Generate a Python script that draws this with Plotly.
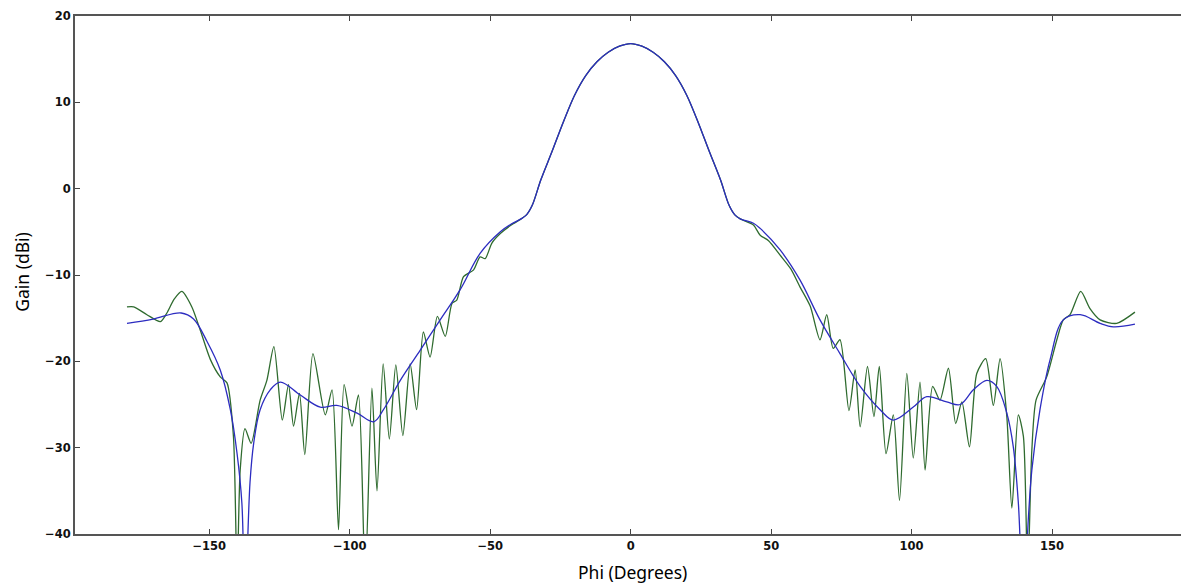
import plotly.graph_objects as go

# Smooth (blue) pattern: angle in degrees, gain in dBi
blue_phi = [-179.3, -170.0, -160.0, -155.6, -150.8, -146.1, -142.5, -140.1, -138.4, -137.3,
            -135.5, -134.2, -131.9, -128.3, -124.7, -117.6, -110.5, -104.6, -97.4, -91.5,
            -88.0, -82.0, -74.9, -67.8, -60.7, -53.6, -46.4, -42.5, -39.0, -37.0,
            -35.0, -32.0, -28.0, -24.0, -20.0, -16.0, -12.0, -8.0, -4.0, 0.0,
            4.0, 8.0, 12.0, 16.0, 20.0, 24.0, 28.0, 32.0, 35.0, 37.0,
            39.0, 43.7, 46.1, 53.2, 60.3, 67.4, 74.5,
            81.7, 88.8, 93.5, 100.6, 105.4, 112.5, 117.3, 122.0, 126.8, 130.3,
            133.9, 136.2, 138.0, 139.8, 141.6, 142.8, 145.7, 149.3, 154.0, 160.0,
            167.1, 171.8, 179.5]
blue_gain = [-15.6, -15.1, -14.4, -15.1, -17.7, -21.0, -25.6, -30.7, -36.4, -48.0,
             -34.0, -29.5, -25.6, -23.3, -22.4, -23.9, -25.3, -25.1, -26.0, -27.0,
             -25.6, -22.2, -18.7, -15.2, -11.7, -7.5, -5.0, -4.1, -3.5, -3.0,
             -1.9, 1.0, 4.3, 7.7, 10.8, 13.1, 14.7, 15.8, 16.5, 16.8,
             16.5, 15.8, 14.7, 13.1, 10.8, 7.7, 4.3, 1.0, -1.9, -3.0,
             -3.5, -4.0, -4.6, -7.1, -10.6, -15.2, -19.1,
             -22.9, -25.6, -26.8, -25.3, -24.1, -24.7, -25.0, -23.3, -22.2, -22.9,
             -26.0, -29.9, -36.4, -48.0, -38.0, -32.6, -25.6, -19.8, -15.2, -14.6,
             -15.6, -16.0, -15.7]

# Measured (green) pattern
green_phi = [-179.3, -176.9, -172.2, -167.4, -165.1, -162.5, -159.8, -156.2, -153.2, -149.6,
             -146.1, -143.7, -141.4, -140.1, -139.0, -137.3, -135.1, -131.9, -129.5, -127.0,
             -124.0, -121.8, -120.0, -117.9, -116.0, -113.1, -108.7, -106.3, -104.0, -102.0,
             -99.2, -96.9, -94.5, -92.1, -90.3, -88.1, -85.9, -83.6, -81.1, -78.5,
             -76.2, -73.8, -71.4, -68.8, -66.0, -63.6, -61.9, -59.5, -55.9, -53.6,
             -51.8, -49.4, -46.4, -42.5, -39.0, -37.0, -35.0, -32.0, -28.0, -24.0,
             -20.0, -16.0, -12.0, -8.0, -4.0, 0.0, 4.0, 8.0, 12.0, 16.0,
             20.0, 24.0, 28.0, 32.0, 35.0, 37.0, 39.0,
             43.7, 46.1, 49.0, 53.2, 57.0, 60.3, 63.9, 67.4, 69.8, 72.1,
             74.5, 77.7, 79.9, 81.7, 84.3, 86.6, 88.5, 90.9, 93.5, 95.7,
             98.3, 100.6, 103.0, 104.8, 107.5, 110.1, 113.1, 115.7, 117.9, 120.6,
             123.2, 126.4, 129.1, 131.5, 133.9, 135.7, 138.0, 139.8, 141.3, 142.8,
             144.3, 148.1, 151.7, 154.0, 156.4, 160.2, 163.5, 167.1, 173.0, 179.5]
green_gain = [-13.7, -13.7, -14.6, -15.4, -14.4, -12.8, -11.9, -13.7, -16.4, -19.8,
              -21.8, -22.5, -28.7, -45.0, -32.6, -27.8, -29.5, -24.5, -22.2, -18.3,
              -26.8, -22.7, -27.5, -23.7, -30.8, -19.1, -26.2, -23.3, -39.5, -22.7,
              -27.5, -23.9, -45.0, -23.1, -35.0, -20.3, -29.0, -20.4, -28.6, -20.3,
              -25.6, -16.6, -19.5, -14.8, -17.1, -13.3, -12.9, -10.2, -9.4, -7.9,
              -8.1, -6.3, -5.2, -4.2, -3.5, -3.0, -1.9, 1.0, 4.3, 7.7,
              10.8, 13.1, 14.7, 15.8, 16.5, 16.8, 16.5, 15.8, 14.7, 13.1,
              10.8, 7.7, 4.3, 1.0, -1.9, -3.0, -3.5,
              -4.2, -5.4, -6.0, -7.7, -9.3, -11.4, -13.6, -17.5, -14.6, -18.5,
              -17.5, -25.7, -21.0, -27.6, -20.6, -26.4, -20.6, -30.7, -26.2, -36.1,
              -21.4, -31.2, -22.4, -32.6, -22.9, -24.5, -20.8, -27.2, -24.7, -29.9,
              -21.4, -19.7, -25.1, -19.7, -26.4, -37.0, -26.2, -28.7, -45.0, -30.3,
              -24.5, -21.8, -17.5, -15.2, -14.6, -11.9, -13.9, -15.2, -15.6, -14.3]

x_ticks = [-150, -100, -50, 0, 50, 100, 150]
y_ticks = [-40, -30, -20, -10, 0, 10, 20]

fig = go.Figure()
fig.add_trace(go.Scatter(x=green_phi, y=green_gain, mode="lines",
                         line=dict(color="#2f6b2f", width=1.3, shape="spline", smoothing=0.7),
                         showlegend=False))
fig.add_trace(go.Scatter(x=blue_phi, y=blue_gain, mode="lines",
                         line=dict(color="#2c2cc0", width=1.3, shape="spline", smoothing=1.0),
                         showlegend=False))

tick_font = dict(family="DejaVu Sans", size=11.5, color="#111111", weight="bold")

fig.update_layout(
    width=1181, height=587,
    margin=dict(l=75, r=0, t=16, b=53),
    paper_bgcolor="white", plot_bgcolor="white",
    font=dict(family="DejaVu Sans", color="black"),
    xaxis=dict(range=[-197.8, 195.9], tickvals=x_ticks, showgrid=False, zeroline=False,
               showline=True, linecolor="#555555", linewidth=2, mirror="ticks",
               ticks="inside", ticklen=5, tickcolor="#444444", tickfont=tick_font),
    yaxis=dict(range=[-40, 20], tickvals=y_ticks, showgrid=False, zeroline=False,
               showline=True, linecolor="#555555", linewidth=2, mirror=False,
               ticks="inside", ticklen=5, tickcolor="#444444", tickfont=tick_font),
    annotations=[
        dict(text="Phi (Degrees)", xref="paper", yref="paper", x=0.5045, y=-0.0734,
             xanchor="center", yanchor="middle", showarrow=False,
             font=dict(family="Noto Sans", size=17.5, color="black")),
        dict(text="Gain (dBi)", xref="paper", yref="paper", x=-0.048, y=0.506,
             xanchor="center", yanchor="middle", showarrow=False, textangle=-90,
             font=dict(family="Noto Sans", size=17.5, color="black")),
    ],
)

fig.write_html("out.html",
               config={"displayModeBar": False},
               post_script="document.body.style.margin='0';document.body.style.padding='0';"
                           "document.body.style.overflow='hidden';")
